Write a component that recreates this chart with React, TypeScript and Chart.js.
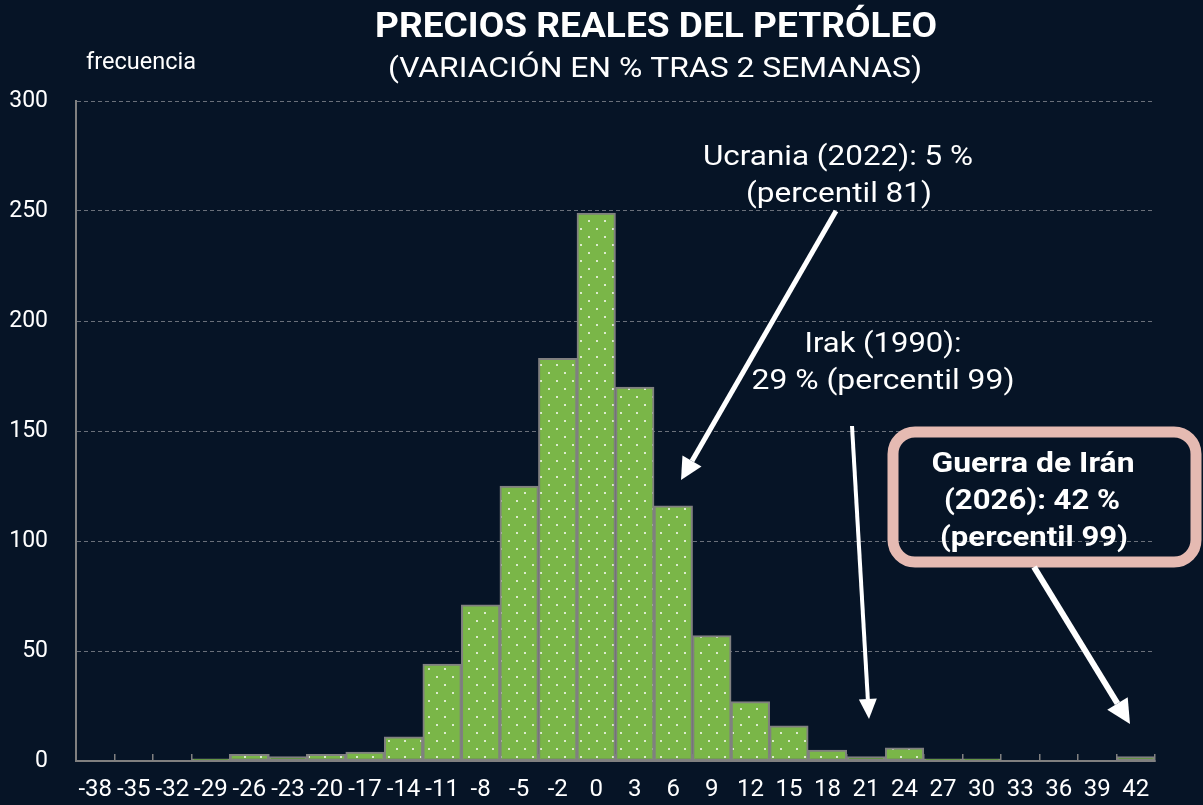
import React, { useEffect, useRef } from "react";
import { Chart, registerables } from "chart.js";

Chart.register(...registerables);

// ---- data ----
const categories = [
  "-38", "-35", "-32", "-29", "-26", "-23", "-20", "-17", "-14", "-11", "-8", "-5", "-2", "0",
  "3", "6", "9", "12", "15", "18", "21", "24", "27", "30", "33", "36", "39", "42",
];
const frequency = [
  0, 0, 0, 1, 3, 2, 3, 4, 11, 44, 71, 125, 183, 249,
  170, 116, 57, 27, 16, 5, 2, 6, 1, 1, 0, 0, 0, 2,
];
const yMin = 0;
const yMax = 300;
const yStep = 50;

const titleText = "PRECIOS REALES DEL PETRÓLEO";
const subtitleText = "(VARIACIÓN EN % TRAS 2 SEMANAS)";
const yAxisLabel = "frecuencia";
const ukraineLines = ["Ucrania (2022): 5 %", "(percentil 81)"];
const iraqLines = ["Irak (1990):", "29 % (percentil 99)"];
const iranLines = ["Guerra de Irán", "(2026): 42 %", "(percentil 99)"];

// ---- style ----
const BG = "#061426";
const GREEN = "#7ab648";
const BAR_BORDER = "#808080";
const GRID = "#6a707a";
const TEXT = "#ffffff";
const BOX = "#e5bab2";
const FONT = "Roboto, 'Noto Sans', sans-serif";

function fitText(
  ctx: CanvasRenderingContext2D,
  text: string,
  cx: number,
  cy: number,
  font: string,
  targetW: number,
  align: "center" | "left" = "center"
) {
  ctx.save();
  ctx.font = font;
  ctx.textBaseline = "middle";
  ctx.textAlign = align;
  const w = ctx.measureText(text).width;
  const s = Math.min(1.15, Math.max(0.7, targetW / w));
  ctx.translate(cx, cy);
  ctx.scale(s, 1);
  ctx.fillStyle = TEXT;
  ctx.fillText(text, 0, 0);
  ctx.restore();
}

function arrow(
  ctx: CanvasRenderingContext2D,
  x1: number,
  y1: number,
  x2: number,
  y2: number,
  lw: number,
  headLen: number,
  headW: number
) {
  const ang = Math.atan2(y2 - y1, x2 - x1);
  const bx = x2 - Math.cos(ang) * headLen;
  const by = y2 - Math.sin(ang) * headLen;
  ctx.save();
  ctx.strokeStyle = TEXT;
  ctx.fillStyle = TEXT;
  ctx.lineWidth = lw;
  ctx.lineCap = "butt";
  ctx.beginPath();
  ctx.moveTo(x1, y1);
  ctx.lineTo(bx, by);
  ctx.stroke();
  const px = (-Math.sin(ang) * headW) / 2;
  const py = (Math.cos(ang) * headW) / 2;
  ctx.beginPath();
  ctx.moveTo(x2, y2);
  ctx.lineTo(bx + px, by + py);
  ctx.lineTo(bx - px, by - py);
  ctx.closePath();
  ctx.fill();
  ctx.restore();
}

function roundRect(ctx: CanvasRenderingContext2D, x: number, y: number, w: number, h: number, r: number) {
  ctx.beginPath();
  ctx.moveTo(x + r, y);
  ctx.lineTo(x + w - r, y);
  ctx.arcTo(x + w, y, x + w, y + r, r);
  ctx.lineTo(x + w, y + h - r);
  ctx.arcTo(x + w, y + h, x + w - r, y + h, r);
  ctx.lineTo(x + r, y + h);
  ctx.arcTo(x, y + h, x, y + h - r, r);
  ctx.lineTo(x, y + r);
  ctx.arcTo(x, y, x + r, y, r);
  ctx.closePath();
}

const annotationPlugin = {
  id: "annotations",
  afterDraw(chart: any) {
    const ctx: CanvasRenderingContext2D = chart.ctx;
    // titles
    fitText(ctx, titleText, 656, 28, `bold 35px ${FONT}`, 562);
    fitText(ctx, subtitleText, 655, 70, `28px ${FONT}`, 534);
    fitText(ctx, yAxisLabel, 86, 63, `24px ${FONT}`, 110, "left");

    // Ukraine
    fitText(ctx, ukraineLines[0], 838, 158, `28px ${FONT}`, 270);
    fitText(ctx, ukraineLines[1], 839, 195, `28px ${FONT}`, 186);
    arrow(ctx, 836, 211, 681, 480, 5, 22, 22);

    // Iraq
    fitText(ctx, iraqLines[0], 883, 345, `28px ${FONT}`, 157);
    fitText(ctx, iraqLines[1], 883, 382, `28px ${FONT}`, 263);
    arrow(ctx, 852, 426, 869, 719, 4, 20, 18);

    // Iran box
    ctx.save();
    ctx.strokeStyle = BOX;
    ctx.lineWidth = 11;
    roundRect(ctx, 893, 432, 303, 130, 22);
    ctx.stroke();
    ctx.restore();
    fitText(ctx, iranLines[0], 1033, 465, `bold 28px ${FONT}`, 203);
    fitText(ctx, iranLines[1], 1032, 502, `bold 28px ${FONT}`, 176);
    fitText(ctx, iranLines[2], 1034, 539, `bold 28px ${FONT}`, 188);
    arrow(ctx, 1034, 567, 1130, 724, 6, 24, 24);
  },
};

export default function App() {
  const ref = useRef<HTMLCanvasElement>(null);
  useEffect(() => {
    const canvas = ref.current!;
    const c2d = canvas.getContext("2d")!;
    const pc = document.createElement("canvas");
    pc.width = 16;
    pc.height = 16;
    const p = pc.getContext("2d")!;
    p.fillStyle = GREEN;
    p.fillRect(0, 0, 16, 16);
    p.fillStyle = "#dcebcd";
    p.fillRect(4, 4, 2, 2);
    p.fillRect(12, 12, 2, 2);
    const pattern = c2d.createPattern(pc, "repeat")!;

    const chart = new Chart(canvas, {
      type: "bar",
      data: {
        labels: categories,
        datasets: [
          {
            data: frequency,
            backgroundColor: pattern as any,
            borderColor: BAR_BORDER,
            borderWidth: 2,
            borderSkipped: false,
            barPercentage: 1,
            categoryPercentage: 1,
          },
        ],
      },
      options: {
        responsive: false,
        animation: false,
        devicePixelRatio: 1,
        layout: { padding: { top: 101, right: 48, left: 0, bottom: 0 } },
        plugins: {
          legend: { display: false },
          tooltip: { enabled: false },
          title: { display: false },
        },
        scales: {
          x: {
            type: "category",
            offset: true,
            grid: {
              offset: true,
              drawOnChartArea: false,
              drawTicks: true,
              tickLength: -7,
              color: BAR_BORDER,
              lineWidth: 1.5,
            },
            border: { display: true, color: BAR_BORDER, width: 2 },
            ticks: {
              color: TEXT,
              font: { family: FONT, size: 24 },
              padding: 22,
              maxRotation: 0,
              minRotation: 0,
              autoSkip: false,
            },
            afterFit: (s: any) => {
              s.height = 44;
            },
          },
          y: {
            min: yMin,
            max: yMax,
            ticks: {
              stepSize: yStep,
              color: TEXT,
              font: { family: FONT, size: 23 },
              padding: 28,
            },
            grid: { color: GRID, lineWidth: 1, drawTicks: false },
            border: { display: true, color: BAR_BORDER, width: 2, dash: [4, 3] },
            afterFit: (s: any) => {
              s.width = 76;
            },
          },
        },
      },
      plugins: [annotationPlugin],
    });
    return () => chart.destroy();
  }, []);

  return (
    <div
      style={{
        position: "fixed",
        left: 0,
        top: 0,
        width: 1203,
        height: 805,
        background: BG,
      }}
    >
      <canvas ref={ref} width={1203} height={805} style={{ display: "block" }} />
    </div>
  );
}
